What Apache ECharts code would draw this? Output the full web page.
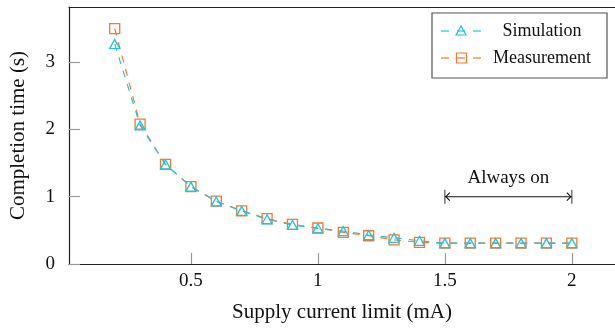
<!DOCTYPE html>
<html>
<head>
<meta charset="utf-8">
<script src="https://cdn.jsdelivr.net/npm/echarts@6/dist/echarts.min.js"></script>
<style>
html,body{margin:0;padding:0;background:#fff;}
#chart{width:615px;height:328px;}
</style>
</head>
<body>
<div id="chart"></div>
<script>
// ---- data ----
const currentLimits = [0.2,0.3,0.4,0.5,0.6,0.7,0.8,0.9,1.0,1.1,1.2,1.3,1.4,1.5,1.6,1.7,1.8,1.9,2.0];
const simulation   = [3.27,2.06,1.48,1.15,0.93,0.79,0.665,0.58,0.53,0.49,0.43,0.39,0.345,0.31,0.31,0.31,0.31,0.31,0.31];
const measurement  = [3.5,2.08,1.48,1.15,0.935,0.79,0.675,0.59,0.535,0.47,0.42,0.36,0.32,0.31,0.31,0.31,0.31,0.31,0.31];
const xTicks = [0.5,1,1.5,2];
const yTicks = [0,1,2,3];
const seriesNames = ['Simulation','Measurement'];
const annoStart = 1.5, annoEnd = 2.0, annoY = 1.0, annoText = 'Always on';
const xLabel = 'Supply current limit (mA)';
const yLabel = 'Completion time (s)';

const CYAN = '#1fc3e0';
const ORANGE = '#f5782a';
const SERIF = '"Liberation Serif","Times New Roman",serif';

const chart = echarts.init(document.getElementById('chart'), null, {renderer:'canvas'});

function pairs(ys){ return currentLimits.map((x,i)=>[x,ys[i]]); }

const legendX = 432, legendY = 13, legendW = 175, legendH = 65;
function legendEntry(cy, color, isTri, name){
  const els = [
    {type:'line', shape:{x1:441,y1:cy,x2:481,y2:cy}, style:{stroke:color,lineWidth:1.2,lineDash:[8,8]}},
  ];
  if(isTri){
    els.push({type:'polygon', shape:{points:[[461,cy-5],[456,cy+4],[466,cy+4]]}, style:{fill:null,stroke:color,lineWidth:1.2}});
  } else {
    els.push({type:'rect', shape:{x:456.5,y:cy-5,width:10,height:10}, style:{fill:null,stroke:color,lineWidth:1.2}});
  }
  els.push({type:'text', style:{text:name,x:542,y:cy,align:'center',verticalAlign:'middle',font:'18px '+SERIF,fill:'#111'}});
  return els;
}

const option = {
  backgroundColor:'#fff',
  animation:false,
  grid:{left:68, right:0, top:7, bottom:62.6, containLabel:false},
  xAxis:[{
    type:'value', min:0.02, max:2.17, position:'bottom',
    name:xLabel, nameLocation:'middle', nameGap:38,
    nameTextStyle:{fontFamily:SERIF,fontSize:21,color:'#111'},
    axisLine:{show:true,onZero:false,lineStyle:{color:'#222',width:1.2}},
    axisTick:{show:true,inside:true,length:11,customValues:xTicks,lineStyle:{color:'#999',width:1.2}},
    axisLabel:{show:true,customValues:xTicks,margin:8,fontFamily:SERIF,fontSize:19,color:'#111'},
    splitLine:{show:false}
  },{
    type:'value', min:0.02, max:2.17, position:'top',
    axisLine:{show:true,onZero:false,lineStyle:{color:'#222',width:1.2}},
    axisTick:{show:false}, axisLabel:{show:false}, splitLine:{show:false}
  }],
  yAxis:{
    type:'value', min:0, max:3.82, position:'left',
    name:yLabel, nameLocation:'middle', nameGap:40,
    nameTextStyle:{fontFamily:SERIF,fontSize:21,color:'#111'},
    axisLine:{show:true,onZero:false,lineStyle:{color:'#222',width:1.2}},
    axisTick:{show:true,inside:true,length:11,customValues:yTicks,lineStyle:{color:'#999',width:1.2}},
    axisLabel:{show:true,customValues:yTicks,margin:14,fontFamily:SERIF,fontSize:19,color:'#111'},
    splitLine:{show:false}
  },
  series:[
    {
      name:seriesNames[1], type:'line', data:pairs(measurement),
      symbol:'rect', symbolSize:10,
      lineStyle:{color:ORANGE,width:1.2,type:[7,7]},
      itemStyle:{color:'rgba(0,0,0,0)',borderColor:ORANGE,borderWidth:1.3},
      z:2
    },
    {
      name:seriesNames[0], type:'line', data:pairs(simulation),
      symbol:'triangle', symbolSize:[10,9],
      lineStyle:{color:CYAN,width:1.2,type:[7,7]},
      itemStyle:{color:'rgba(0,0,0,0)',borderColor:CYAN,borderWidth:1.3},
      z:3
    },
    {
      type:'custom', data:[[annoStart, annoEnd, annoY]], clip:false, silent:true, z:4,
      encode:{x:[0,1], y:2},
      renderItem:function(params, api){
        const p1 = api.coord([api.value(0), api.value(2)]);
        const p2 = api.coord([api.value(1), api.value(2)]);
        const y = p1[1];
        const st = {stroke:'#111', lineWidth:1.1, fill:null};
        return {type:'group', children:[
          {type:'line', shape:{x1:p1[0],y1:y,x2:p2[0],y2:y}, style:st},
          {type:'line', shape:{x1:p1[0],y1:y-7,x2:p1[0],y2:y+7}, style:{stroke:'#555',lineWidth:1.2}},
          {type:'line', shape:{x1:p2[0],y1:y-7,x2:p2[0],y2:y+7}, style:{stroke:'#555',lineWidth:1.2}},
          {type:'polyline', shape:{points:[[p1[0]+5,y-4],[p1[0]+1,y],[p1[0]+5,y+4]]}, style:st},
          {type:'polyline', shape:{points:[[p2[0]-5,y-4],[p2[0]-1,y],[p2[0]-5,y+4]]}, style:st},
          {type:'text', style:{text:annoText, x:(p1[0]+p2[0])/2, y:y-19, align:'center', verticalAlign:'middle', font:'19px '+SERIF, fill:'#111'}}
        ]};
      }
    }
  ],
  graphic:[
    {type:'group', z:100, children:[
      {type:'rect', shape:{x:legendX,y:legendY,width:legendW,height:legendH}, style:{fill:'#fff',stroke:'#555',lineWidth:1.2}},
      ...legendEntry(31, CYAN, true, seriesNames[0]),
      ...legendEntry(58, ORANGE, false, seriesNames[1])
    ]}
  ]
};
chart.setOption(option);
</script>
</body>
</html>
